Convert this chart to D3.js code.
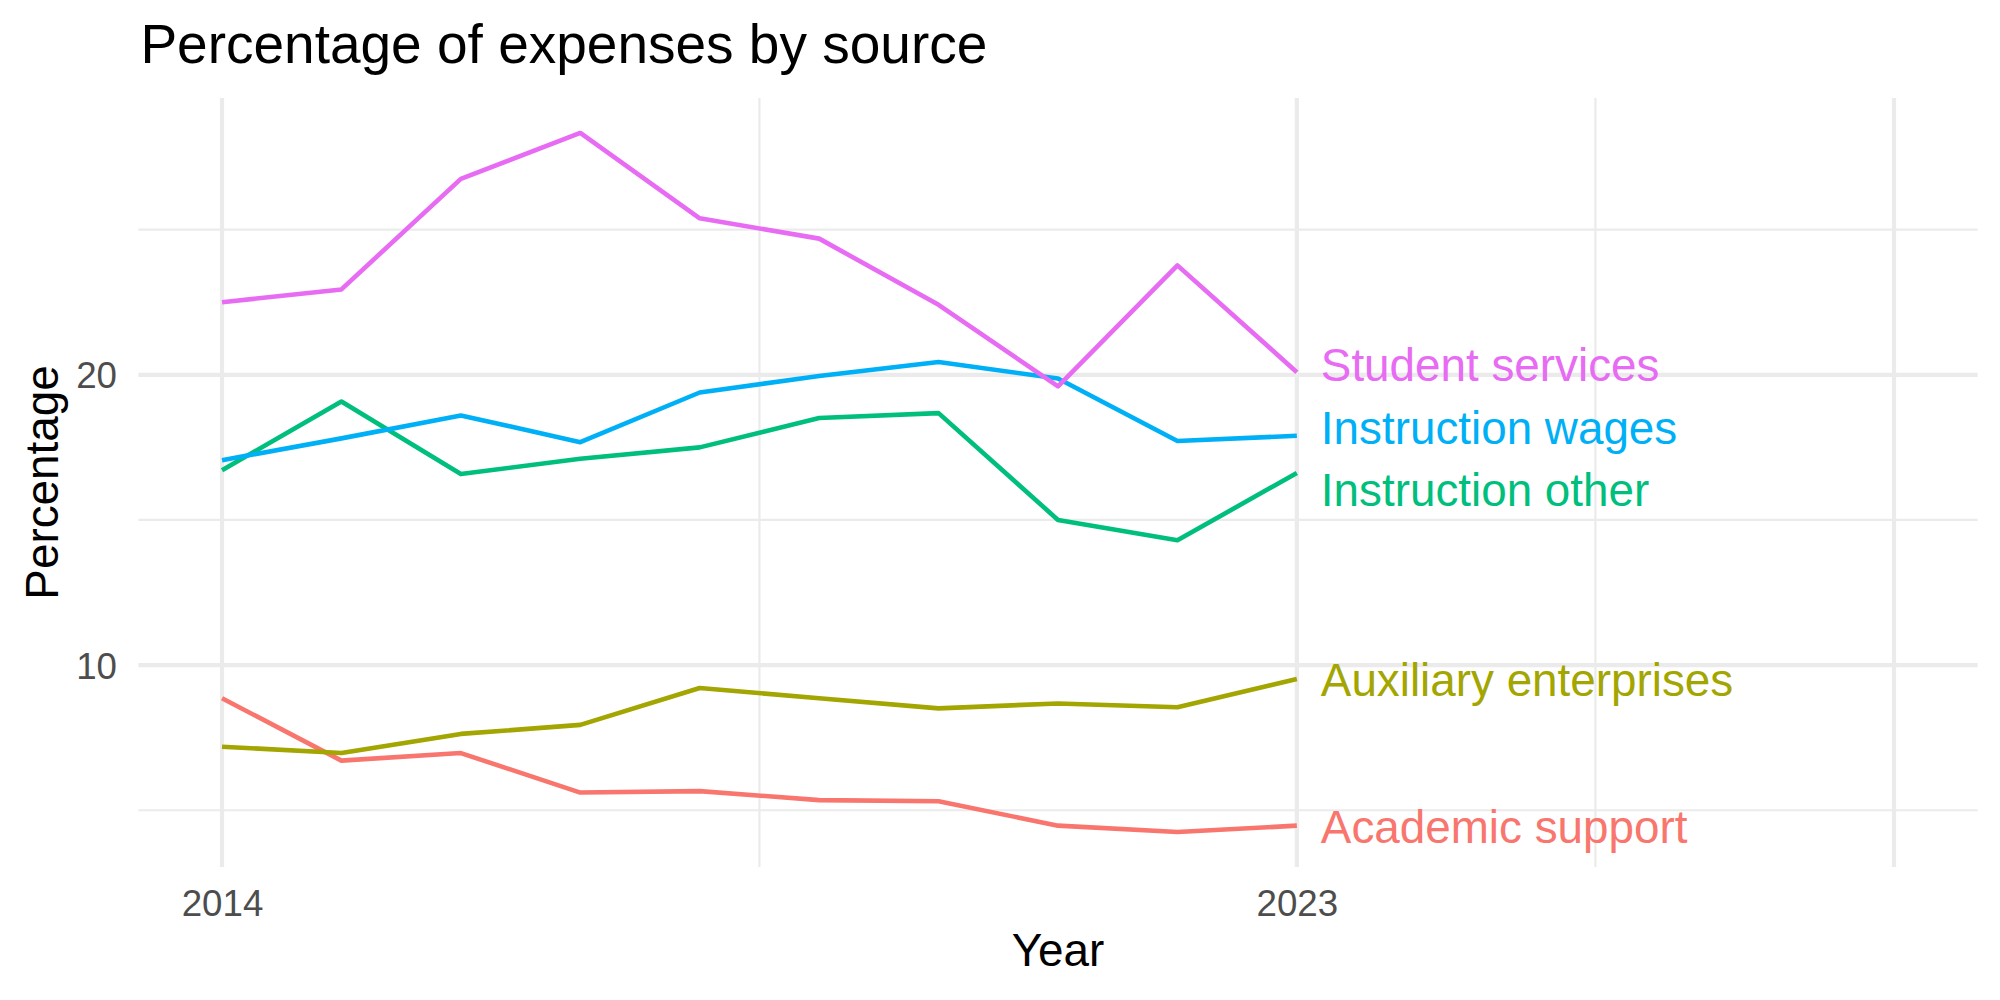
<!DOCTYPE html>
<html>
<head>
<meta charset="utf-8">
<script src="https://cdn.jsdelivr.net/npm/d3@7"></script>
<style>
  body { margin: 0; background: #fff; }
  text { font-family: "Liberation Sans", Arial, sans-serif; }
</style>
</head>
<body>
<script>
(function(){

  //chart data
  var years = [2014, 2015, 2016, 2017, 2018, 2019, 2020, 2021, 2022, 2023];
  var seriesNames = ["Academic support", "Auxiliary enterprises", "Instruction other", "Instruction wages", "Student services"];
  var academicSupport = [8.86, 6.71, 6.97, 5.61, 5.66, 5.35, 5.31, 4.47, 4.25, 4.47];
  var auxiliaryEnterprises = [7.19, 6.97, 7.63, 7.94, 9.21, 8.86, 8.51, 8.68, 8.55, 9.52];
  var instructionOther = [16.71, 19.08, 16.58, 17.11, 17.50, 18.51, 18.68, 15.00, 14.30, 16.62];
  var instructionWages = [17.06, 17.81, 18.60, 17.68, 19.39, 19.96, 20.44, 19.87, 17.72, 17.90];
  var studentServices = [22.50, 22.94, 26.75, 28.33, 25.39, 24.69, 22.41, 19.60, 23.77, 20.09];
  var seriesColors = ["#F8766D", "#A3A500", "#00BF7D", "#00B0F6", "#E76BF3"];

  //axis breaks and tick labels
  var xBreaks = [2014, 2023, 2028];
  var xLabels = ["2014", "2023", ""];
  var xMinor = [2018.5, 2025.5];
  var yBreaks = [10, 20];
  var yLabels = ["10", "20"];
  var yMinor = [5, 15, 25];
  var xLimits = [2014, 2028]; //x range incl. room for labels

  var allValues = [academicSupport, auxiliaryEnterprises, instructionOther, instructionWages, studentServices];

  window.onload = setChart();

  function setChart(){
    var width = 2000,
        height = 1000,
        panelLeft = 138.4,
        panelRight = 1977.6,
        panelTop = 98,
        panelBottom = 867;

    var svg = d3.select("body") //svg container
      .append("svg")
      .attr("width", width)
      .attr("height", height);

    //ggplot style 5% expansion
    var xSpan = xLimits[1] - xLimits[0];
    var xScale = d3.scaleLinear()
      .domain([xLimits[0] - xSpan * 0.05, xLimits[1] + xSpan * 0.05])
      .range([panelLeft, panelRight]);

    var yMin = d3.min(allValues, function(d){ return d3.min(d); }),
        yMax = d3.max(allValues, function(d){ return d3.max(d); }),
        ySpan = yMax - yMin;
    var yScale = d3.scaleLinear()
      .domain([yMin - ySpan * 0.05, yMax + ySpan * 0.05])
      .range([panelBottom, panelTop]);

    var grid = svg.append("g").attr("class", "grid");

    //minor gridlines
    grid.selectAll(".xMinor")
      .data(xMinor)
      .enter()
      .append("line")
      .attr("x1", function(d){ return xScale(d); })
      .attr("x2", function(d){ return xScale(d); })
      .attr("y1", panelTop)
      .attr("y2", panelBottom)
      .style("stroke", "#EBEBEB")
      .style("stroke-width", 2.2);

    grid.selectAll(".yMinor")
      .data(yMinor)
      .enter()
      .append("line")
      .attr("x1", panelLeft)
      .attr("x2", panelRight)
      .attr("y1", function(d){ return yScale(d); })
      .attr("y2", function(d){ return yScale(d); })
      .style("stroke", "#EBEBEB")
      .style("stroke-width", 2.2);

    //major gridlines
    grid.selectAll(".xMajor")
      .data(xBreaks)
      .enter()
      .append("line")
      .attr("x1", function(d){ return xScale(d); })
      .attr("x2", function(d){ return xScale(d); })
      .attr("y1", panelTop)
      .attr("y2", panelBottom)
      .style("stroke", "#EBEBEB")
      .style("stroke-width", 4.2);

    grid.selectAll(".yMajor")
      .data(yBreaks)
      .enter()
      .append("line")
      .attr("x1", panelLeft)
      .attr("x2", panelRight)
      .attr("y1", function(d){ return yScale(d); })
      .attr("y2", function(d){ return yScale(d); })
      .style("stroke", "#EBEBEB")
      .style("stroke-width", 4.2);

    //series lines
    var line = d3.line()
      .x(function(d, i){ return xScale(years[i]); })
      .y(function(d){ return yScale(d); });

    svg.selectAll(".series")
      .data(allValues)
      .enter()
      .append("path")
      .attr("class", "series")
      .attr("d", line)
      .style("fill", "none")
      .style("stroke", function(d, i){ return seriesColors[i]; })
      .style("stroke-width", 4.6)
      .style("stroke-linejoin", "round");

    //end labels, pushed apart a bit like ggrepel
    var labels = seriesNames.map(function(name, i){
      var last = allValues[i][allValues[i].length - 1];
      return {name: name, color: seriesColors[i], y: yScale(last)};
    });
    var minGap = 62.5;
    for (var k=0; k<200; k++){
      labels.sort(function(a, b){ return a.y - b.y; });
      for (var j=0; j<labels.length - 1; j++){
        var gap = labels[j+1].y - labels[j].y;
        if (gap < minGap){
          var push = (minGap - gap) / 2;
          labels[j].y -= push;
          labels[j+1].y += push;
        };
      };
    };

    svg.selectAll(".endLabel")
      .data(labels)
      .enter()
      .append("text")
      .attr("class", "endLabel")
      .attr("x", xScale(years[years.length - 1]) + 24)
      .attr("y", function(d){ return d.y + 17; })
      .style("font-size", "45.8px")
      .style("fill", function(d){ return d.color; })
      .text(function(d){ return d.name; });

    //axes, text only
    var xAxis = d3.axisBottom(xScale)
      .tickValues(xBreaks)
      .tickFormat(function(d, i){ return xLabels[i]; })
      .tickSize(0)
      .tickPadding(0);

    var xAxisG = svg.append("g")
      .attr("transform", "translate(0," + panelBottom + ")")
      .call(xAxis);
    xAxisG.select(".domain").remove();
    xAxisG.selectAll("text")
      .attr("dy", null)
      .attr("y", 49)
      .style("font-size", "36.7px")
      .style("font-family", "'Liberation Sans', Arial, sans-serif")
      .style("fill", "#4D4D4D");

    var yAxis = d3.axisLeft(yScale)
      .tickValues(yBreaks)
      .tickFormat(function(d, i){ return yLabels[i]; })
      .tickSize(0)
      .tickPadding(0);

    var yAxisG = svg.append("g")
      .attr("transform", "translate(117,0)")
      .call(yAxis);
    yAxisG.select(".domain").remove();
    yAxisG.selectAll("text")
      .attr("dy", null)
      .attr("x", 0)
      .attr("y", 13)
      .style("font-size", "36.7px")
      .style("font-family", "'Liberation Sans', Arial, sans-serif")
      .style("fill", "#4D4D4D");

    //titles
    svg.append("text")
      .attr("x", panelLeft + 2)
      .attr("y", 63)
      .style("font-size", "55px")
      .style("fill", "#000")
      .text("Percentage of expenses by source");

    svg.append("text")
      .attr("x", (panelLeft + panelRight) / 2)
      .attr("y", 966)
      .attr("text-anchor", "middle")
      .style("font-size", "45.8px")
      .style("fill", "#000")
      .text("Year");

    svg.append("text")
      .attr("transform", "translate(58," + (panelTop + panelBottom) / 2 + ") rotate(-90)")
      .attr("text-anchor", "middle")
      .style("font-size", "45.8px")
      .style("fill", "#000")
      .text("Percentage");
  };
})();
</script>
</body>
</html>
